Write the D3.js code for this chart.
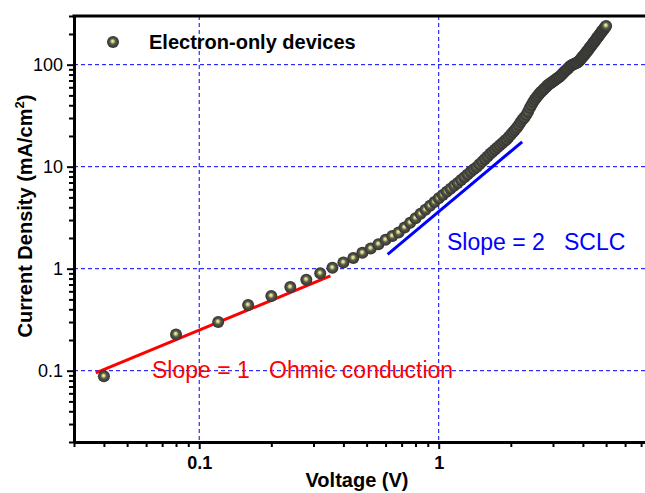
<html>

<head>
	<title>Electron-only devices</title>
	<script src="https://d3js.org/d3.v7.min.js"></script>
	<style>
		body {
			margin: 0;
			background: #fff;
		}

		text {
			font-family: "Liberation Sans", Arial, sans-serif;
		}
	</style>
</head>

<body>
	<div id="chart"></div>
	<script>
		// J-V data
		let voltage = [0.04, 0.08, 0.12, 0.16, 0.20, 0.24, 0.28, 0.32, 0.36, 0.40,
			0.44, 0.48, 0.52, 0.56, 0.60, 0.64, 0.68, 0.72, 0.76, 0.80,
			0.84, 0.88, 0.92, 0.96, 1.00, 1.04, 1.08, 1.12, 1.16, 1.20,
			1.24, 1.28, 1.32, 1.36, 1.40, 1.44, 1.48, 1.52, 1.56, 1.60,
			1.64, 1.68, 1.72, 1.76, 1.80, 1.84, 1.88, 1.92, 1.96, 2.00,
			2.04, 2.08, 2.12, 2.16, 2.20, 2.24, 2.28, 2.32, 2.36, 2.40,
			2.44, 2.48, 2.52, 2.56, 2.60, 2.64, 2.68, 2.72, 2.76, 2.80,
			2.84, 2.88, 2.92, 2.96, 3.00, 3.04, 3.08, 3.12, 3.16, 3.20,
			3.24, 3.28, 3.32, 3.36, 3.40, 3.44, 3.48, 3.52, 3.56, 3.60,
			3.64, 3.68, 3.72, 3.76, 3.80, 3.84, 3.88, 3.92, 3.96, 4.00,
			4.04, 4.08, 4.12, 4.16, 4.20, 4.24, 4.28, 4.32, 4.36, 4.40,
			4.44, 4.48, 4.52, 4.56, 4.60, 4.64, 4.68, 4.72, 4.76, 4.80,
			4.84, 4.88, 4.92, 4.96, 5.00
		];

		let current = [0.088, 0.227, 0.30, 0.44, 0.54, 0.66, 0.78, 0.90, 1.02, 1.15,
			1.27, 1.43, 1.58, 1.74, 1.92, 2.09, 2.26, 2.53, 2.82, 3.13,
			3.45, 3.79, 4.14, 4.50, 4.90, 5.28, 5.67, 6.08, 6.50, 6.93,
			7.40, 7.88, 8.39, 8.90, 9.43, 9.90, 10.54, 11.21, 11.90, 12.61,
			13.36, 14.04, 14.74, 15.46, 16.20, 16.95, 17.73, 18.50, 19.54, 20.61,
			21.72, 22.87, 24.06, 25.6, 27.4, 29.0, 30.4, 32.2, 34.6, 37.6,
			40.3, 43.0, 45.6, 48.0, 50.2, 52.4, 54.4, 56.2, 58.0, 60.0,
			62.0, 64.0, 65.5, 67.0, 68.5, 70.05, 71.6, 73.15, 74.7, 76.3,
			78.6, 80.9, 83.2, 85.6, 88.0, 90.4, 92.9, 95.5, 97.5, 99.2,
			100.6, 101.8, 102.9, 104.0, 105.4, 107.3, 110.7, 113.9, 117.2, 120.5,
			123.9, 127.4, 131.0, 134.7, 138.8, 143.0, 147.3, 151.6, 156.1, 160.6,
			165.3, 170.0, 174.8, 179.7, 184.7, 189.7, 194.9, 200.2, 205.6, 211.1,
			216.7, 222.4, 228.2, 234.1, 240
		];

		// fitted guide lines (end points)
		let ohmicV = [0.037, 0.353];
		let ohmicJ = [0.095, 0.85];
		let sclcV = [0.612, 2.23];
		let sclcJ = [1.38, 17.5];

		let xMajor = [0.1, 1];
		let xMinor = [0.03, 0.04, 0.05, 0.06, 0.07, 0.08, 0.09,
			0.2, 0.3, 0.4, 0.5, 0.6, 0.7, 0.8, 0.9,
			2, 3, 4, 5, 6, 7, 8
		];
		let yMajor = [0.1, 1, 10, 100];
		let yMinor = [0.02, 0.03, 0.04, 0.05, 0.06, 0.07, 0.08, 0.09,
			0.2, 0.3, 0.4, 0.5, 0.6, 0.7, 0.8, 0.9,
			2, 3, 4, 5, 6, 7, 8, 9,
			20, 30, 40, 50, 60, 70, 80, 90,
			200, 300
		];

		let W = 645,
			H = 493;
		let padL = 74,
			padT = 16,
			padB = 442;

		let x = d3.scaleLog().domain([0.03, 8]).range([padL, 655]);
		let y = d3.scaleLog().domain([0.02, 300]).range([padB, padT]);

		let svg = d3.select("#chart").append("svg")
			.attr("width", W)
			.attr("height", H);

		// sphere marker
		let grad = svg.append("defs").append("radialGradient")
			.attr("id", "ball")
			.attr("cx", "50%").attr("cy", "50%").attr("r", "50%")
			.attr("fx", "46%").attr("fy", "42%");
		grad.append("stop").attr("offset", "0%").attr("stop-color", "#f8f8b0");
		grad.append("stop").attr("offset", "22%").attr("stop-color", "#caca80");
		grad.append("stop").attr("offset", "48%").attr("stop-color", "#5a5a4a");
		grad.append("stop").attr("offset", "100%").attr("stop-color", "#303030");

		// grid
		svg.append("g").selectAll("line").data(xMajor).enter().append("line")
			.attr("x1", d => x(d)).attr("x2", d => x(d))
			.attr("y1", padT).attr("y2", padB)
			.attr("stroke", "#0000ff").attr("stroke-width", 1)
			.attr("stroke-dasharray", "4,3");
		svg.append("g").selectAll("line").data(yMajor).enter().append("line")
			.attr("x1", padL).attr("x2", W)
			.attr("y1", d => y(d)).attr("y2", d => y(d))
			.attr("stroke", "#0000ff").attr("stroke-width", 1)
			.attr("stroke-dasharray", "4,3");

		// axes
		let xAxisMinor = d3.axisBottom(x).tickValues(xMinor).tickSize(5).tickSizeOuter(0).tickFormat("");
		let xAxisMajor = d3.axisBottom(x).tickValues(xMajor).tickSize(7).tickSizeOuter(0).tickFormat(d3.format(""));
		let yAxisMinor = d3.axisLeft(y).tickValues(yMinor).tickSize(5).tickSizeOuter(0).tickFormat("");
		let yAxisMajor = d3.axisLeft(y).tickValues(yMajor).tickSize(7).tickSizeOuter(0).tickFormat(d3.format(""));

		function styleAxis(g) {
			g.select(".domain").attr("stroke", "#000").attr("stroke-width", 3);
			g.selectAll(".tick line").attr("stroke", "#000").attr("stroke-width", 2);
		}

		let gx1 = svg.append("g").attr("transform", "translate(0," + padB + ")").call(xAxisMinor);
		let gx2 = svg.append("g").attr("transform", "translate(0," + padB + ")").call(xAxisMajor);
		let gy1 = svg.append("g").attr("transform", "translate(" + padL + ",0)").call(yAxisMinor);
		let gy2 = svg.append("g").attr("transform", "translate(" + padL + ",0)").call(yAxisMajor);
		[gx1, gx2, gy1, gy2].forEach(styleAxis);

		gx2.selectAll(".tick text")
			.attr("y", 14)
			.attr("font-size", 18)
			.attr("font-weight", "bold")
			.attr("font-family", "Liberation Sans, Arial, sans-serif")
			.attr("fill", "#000");
		gy2.selectAll(".tick text")
			.attr("x", -11)
			.attr("font-size", 18)
			.attr("font-family", "Liberation Sans, Arial, sans-serif")
			.attr("fill", "#000");

		// top frame
		svg.append("line")
			.attr("x1", padL - 1.5).attr("x2", W)
			.attr("y1", padT).attr("y2", padT)
			.attr("stroke", "#000").attr("stroke-width", 3);

		// guide lines
		let line = d3.line().x(d => x(d[0])).y(d => y(d[1]));
		svg.append("path")
			.attr("d", line(d3.zip(ohmicV, ohmicJ)))
			.attr("stroke", "#ff0000").attr("stroke-width", 3).attr("fill", "none");
		svg.append("path")
			.attr("d", line(d3.zip(sclcV, sclcJ)))
			.attr("stroke", "#0000ff").attr("stroke-width", 3).attr("fill", "none");

		// data points
		svg.append("g").selectAll("circle").data(d3.zip(voltage, current)).enter().append("circle")
			.attr("cx", d => x(d[0]))
			.attr("cy", d => y(d[1]))
			.attr("r", 6)
			.attr("fill", "url(#ball)");

		// legend
		svg.append("circle")
			.attr("cx", 113).attr("cy", 42).attr("r", 6)
			.attr("fill", "url(#ball)");
		svg.append("text")
			.attr("x", 149).attr("y", 49)
			.attr("font-size", 20).attr("font-weight", "bold")
			.text("Electron-only devices");

		// annotations
		svg.append("text")
			.attr("x", 152).attr("y", 378)
			.attr("font-size", 23).attr("fill", "#ff0000")
			.style("white-space", "pre")
			.text("Slope = 1   Ohmic conduction");
		svg.append("text")
			.attr("x", 447).attr("y", 250)
			.attr("font-size", 23).attr("fill", "#0000ff")
			.style("white-space", "pre")
			.text("Slope = 2   SCLC");

		// axis titles
		svg.append("text")
			.attr("x", 357).attr("y", 487)
			.attr("text-anchor", "middle")
			.attr("font-size", 20).attr("font-weight", "bold")
			.text("Voltage (V)");

		let yt = svg.append("text")
			.attr("transform", "translate(32,216) rotate(-90)")
			.attr("text-anchor", "middle")
			.attr("font-size", 20).attr("font-weight", "bold");
		yt.append("tspan").text("Current Density (mA/cm");
		yt.append("tspan").attr("font-size", 13).attr("dy", -8).text("2");
		yt.append("tspan").attr("dy", 8).text(")");
	</script>
</body>

</html>
